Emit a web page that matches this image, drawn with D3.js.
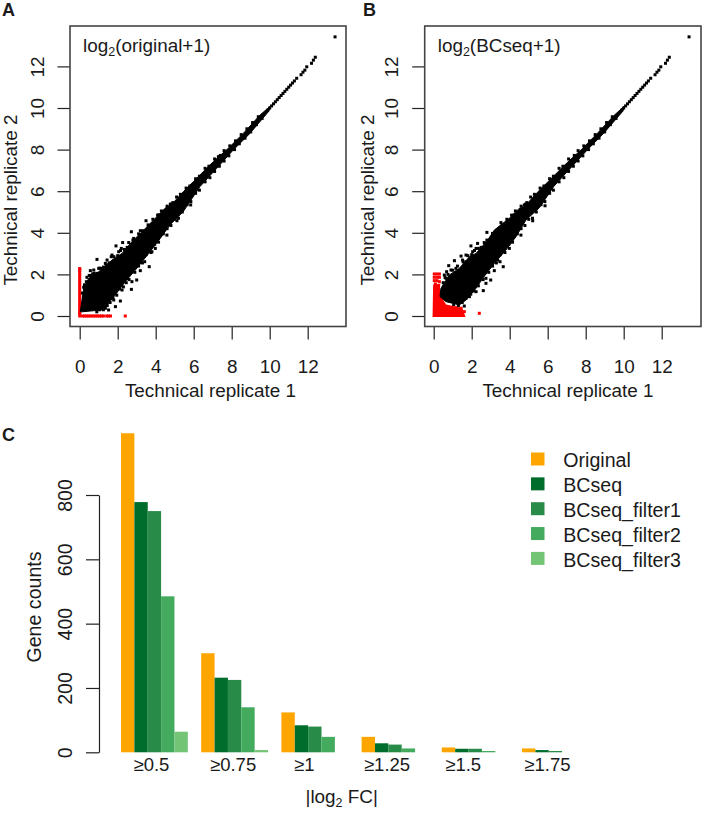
<!DOCTYPE html>
<html><head><meta charset="utf-8">
<script src="https://cdn.jsdelivr.net/npm/d3@7"></script>
<style>
html,body{margin:0;padding:0;background:#fff}
svg{display:block}
text{font-family:"Liberation Sans",Arial,sans-serif;fill:#1a1a1a}
</style></head><body>
<script>
// ---- Scatter data (log2 units) ----
const scatterTicks = [0,2,4,6,8,10,12];
const aUpperX = [0.03,0.21,0.47,1.0,1.7,2.23,2.75,3.37,3.98,4.49,4.86,5.46,5.98,7.03,7.82,8.61,9.49,10.02];
const aUpperY = [0.21,1.33,1.81,2.13,2.69,3.01,3.57,4.13,4.70,5.18,5.38,5.98,6.46,7.42,8.06,8.78,9.66,10.08];
const aLowerX = [0.1,1.17,1.52,1.87,2.40,2.93,3.63,4.24,4.75,5.45,6.33,7.21,8.08,8.96,9.93,10.02];
const aLowerY = [0.2,0.29,0.61,1.01,1.65,2.21,3.01,3.73,4.38,5.02,6.22,7.10,7.98,8.78,9.82,9.98];
const aOutX = [0.91,1.91,2.26,2.72,3.49,2.84,2.58,2.05,1.70,1.44,1.35,1.17,0.56,0.74,0.38,0.56,0.21,3.19,4.16,4.77,1.66,2.19,1.0,0.68,
  3.66,3.0,2.72,2.14,1.88,5.12,4.59,3.98,3.80,3.42,3.19,2.75,2.49,2.23,1.79,1.35,1.52,5.84,5.19,7.3,4.84,
  0.15,0.25,0.35,0.5,0.6,0.75,0.9,1.05,1.25,1.4,1.55,1.8,2.0,2.15,2.35,
  0.9,1.05,1.25,1.35,1.45,1.6,1.75,1.95,2.1,2.3,2.45];
const aOutY = [2.72,3.37,3.53,4.05,4.58,3.73,3.53,3.09,2.93,2.69,2.53,2.29,2.18,2.21,1.86,1.73,1.38,4.10,4.86,5.38,2.85,3.25,2.29,2.02,
  2.37,1.73,1.28,0.72,0.45,4.58,3.89,3.25,3.09,2.61,2.18,1.65,1.81,1.25,0.77,0.37,0.29,5.34,5.04,7.66,5.38,
  1.1,1.5,1.65,1.95,1.95,2.05,2.05,2.3,2.35,2.45,2.55,2.85,2.9,3.15,3.2,
  0.2,0.3,0.3,0.55,0.5,0.65,0.85,1.0,1.3,1.4,1.6];
// rough edge points along the middle of the cloud, both panels
const edgeX = [2.5,2.8,3.1,3.3,3.6,3.85,4.1,4.3,4.6,4.9,5.1,5.3,5.6,5.8,6.1,6.3,6.6,6.8,7.1,7.4,7.6,7.9,8.2,8.5,8.8,9.1,9.4,
  2.6,2.9,3.1,3.3,3.5,3.75,3.95,4.15,4.4,4.6,4.8,5.0,5.2,5.4,5.65,5.85,6.1,6.3,6.6,6.85,7.1,7.35,7.6,7.85,8.15,8.4,8.7,9.0,9.3,9.6];
const edgeY = [3.3,3.65,3.95,4.1,4.38,4.65,4.85,5.05,5.28,5.45,5.72,5.85,6.15,6.25,6.6,6.72,7.1,7.2,7.55,7.72,7.95,8.18,8.42,8.72,9.0,9.3,9.58,
  1.75,2.1,2.4,2.55,2.95,3.05,3.45,3.55,3.95,4.2,4.35,4.65,4.7,5.0,5.35,5.5,5.9,6.05,6.45,6.65,6.95,7.2,7.45,7.7,8.0,8.28,8.55,8.85,9.2,9.5];
const tailX = [9.9,10.0,10.1,10.2,10.3,10.4,10.5,10.6,10.7,10.8,10.9,11.0,11.1,11.2,11.3,11.42,11.65,11.75,11.85,11.95,12.2,12.3,12.4,13.44];
const tailY = [9.9,10.0,10.1,10.2,10.3,10.4,10.5,10.6,10.7,10.8,10.9,11.0,11.1,11.2,11.3,11.43,11.6,11.72,11.82,11.98,12.15,12.3,12.44,13.42];
const aRedX = [0,0,0,0,0,0,0,0,0,0,0,0,0,0,0,0,0,0,0,0,0,0,0,0,0,
  0,0.15,0.25,0.35,0.45,0.55,0.65,0.75,0.85,0.95,1.05,1.15,1.25,1.42,1.52,1.62,2.40];
const aRedY = [0.1,0.2,0.3,0.4,0.5,0.6,0.7,0.8,0.9,1.0,1.1,1.2,1.3,1.4,1.5,1.6,1.7,1.8,1.9,2.0,2.1,2.2,2.28,2.25,0.15,
  0,0,0,0,0,0,0,0,0,0,0,0,0,0,0,0,0];

const bUpperX = [0.38,0.82,1.35,1.88,2.23,2.84,3.19,3.98,4.49,4.86,5.46,5.98,7.03,7.82,8.61,9.49,10.02];
const bUpperY = [1.33,1.97,2.29,2.85,3.01,3.65,4.13,4.70,5.16,5.34,5.95,6.42,7.38,8.04,8.78,9.64,10.08];
const bLowerX = [0.33,0.65,1.35,1.70,2.23,2.58,3.19,3.80,4.33,4.86,5.56,6.33,7.21,8.08,8.96,9.93,10.02];
const bLowerY = [0.93,0.69,0.53,0.77,1.33,1.81,2.53,3.17,3.81,4.62,5.20,6.24,7.12,7.98,8.80,9.82,9.98];
const bOutX = [0.79,1.09,1.44,1.70,1.96,2.31,2.66,2.80,3.54,1.52,1.17,0.56,0.68,0.65,2.05,2.23,3.10,4.24,4.77,1.70,0.91,
  3.66,3.49,3.19,3.0,2.75,2.61,2.75,5.21,4.59,3.98,1.88,1.70,2.23,1.61,3.37,5.86,5.15,4.84,
  0.5,0.6,0.75,1.0,1.25,1.55,1.8,2.0,2.15,2.35,1.05,1.3,1.5,1.95,2.1,2.35];
const bOutY = [2.42,2.66,2.88,2.93,3.37,3.49,3.53,4.02,4.49,2.69,2.29,1.97,2.13,1.81,3.09,3.25,3.97,4.86,5.34,2.61,2.21,
  2.37,2.61,2.18,1.73,1.81,1.22,1.57,4.58,3.89,3.25,0.93,0.85,1.17,0.48,2.69,5.3,4.98,5.38,
  1.6,1.85,2.0,2.2,2.4,2.6,2.9,2.95,3.15,3.25,0.55,0.5,0.65,1.05,1.2,1.45];
const bRedPolyX = [-0.03,0.32,0.36,0.65,1.5,1.68,-0.06];
const bRedPolyY = [1.52,1.52,1.0,0.55,0.38,-0.05,-0.05];
const bRedX = [0.03,0.16,0.30,0.03,0.17,0.30,0.03,0.17,0.30,0.09,0.26,0.38,0.44,0.65,0.91,1.17,1.44,1.61,2.40];
const bRedY = [2.02,2.02,2.02,1.86,1.86,1.86,1.70,1.70,1.65,1.54,1.47,1.04,0.85,0.45,0.41,0.40,0.37,0.21,0.13];

// ---- Bar data ----
const groups = ["≥0.5","≥0.75","≥1","≥1.25","≥1.5","≥1.75"];
const seriesNames = ["Original","BCseq","BCseq_filter1","BCseq_filter2","BCseq_filter3"];
const seriesColors = ["#FFA500","#006D2C","#288C48","#44AB5E","#74C476"];
const original = [992,308,124,48,15,12];
const bcseq    = [778,232,84,28,11,7];
const filter1  = [750,225,80,24,11,4];
const filter2  = [485,140,48,12,4,0];
const filter3  = [64,7,0,0,0,0];
const seriesValues = [original,bcseq,filter1,filter2,filter3];
const barTicks = [0,200,400,600,800];
// hand-placed label offsets seen in the figure (px)
const groupLabelNudge = [-3,-1.5,-10.5,-8,-12,-8];

// ---- Layout ----
const W = 712, H = 813;
const svg = d3.select("body").append("svg").attr("width",W).attr("height",H);
const FS = 18.9, FSC = 19.6;
const defs = svg.append("defs");
defs.append("filter").attr("id","soft").append("feGaussianBlur").attr("stdDeviation",0.3);

function addLog2(g,x,y,pre,post,size){
  const t = g.append("text").attr("x",x).attr("y",y).attr("font-size",size);
  t.append("tspan").text(pre);
  t.append("tspan").attr("font-size",size*0.66).attr("dy",4).text("2");
  t.append("tspan").attr("dy",-4).text(post);
  return t;
}
function styleAxis(g,size){
  g.select(".domain").attr("stroke","#222").attr("stroke-width",1.2);
  g.selectAll(".tick line").attr("stroke","#222").attr("stroke-width",1.2);
  g.selectAll(".tick text").attr("font-size",size).attr("font-family",'"Liberation Sans",Arial,sans-serif').attr("fill","#1a1a1a");
}
function polygon(x,y,xs,ys){
  return d3.line().x(d=>x(xs[d])).y(d=>y(ys[d]))(d3.range(xs.length))+"Z";
}

function panel(o){
  const x = d3.scaleLinear().domain([0,12]).range([o.x0,o.x0+228]);
  const y = d3.scaleLinear().domain([0,12]).range([316,66.4]);
  const g = svg.append("g");
  const ax = g.append("g").attr("transform","translate(0,326.5)")
    .call(d3.axisBottom(x).tickValues(scatterTicks).tickFormat(d3.format("d")).tickSize(13).tickSizeOuter(0).tickPadding(20));
  styleAxis(ax,FS); ax.select(".domain").remove();
  const ay = g.append("g").attr("transform",`translate(${o.left},0)`)
    .call(d3.axisLeft(y).tickValues(scatterTicks).tickFormat(d3.format("d")).tickSize(12.5).tickSizeOuter(0).tickPadding(0));
  styleAxis(ay,FS); ay.select(".domain").remove();
  ay.selectAll(".tick text").attr("x",null).attr("dy",null).attr("text-anchor","middle")
    .attr("transform","translate(-32.5,0) rotate(-90) translate(0,6)");

  const marks = g.append("g").attr("filter","url(#soft)");
  // red low-count points behind the black cloud
  if(o.redPolyX) marks.append("path").attr("d",polygon(x,y,o.redPolyX,o.redPolyY)).attr("fill","#ff0000");
  const sq = 3;
  marks.append("g").selectAll("rect").data(d3.range(o.redX.length)).join("rect")
    .attr("x",d=>x(o.redX[d])-sq/2).attr("y",d=>y(o.redY[d])-sq/2).attr("width",sq).attr("height",sq).attr("fill","#ff0000");

  // black dense core + individually readable points
  const px = o.upX.concat(o.loX.slice().reverse());
  const py = o.upY.concat(o.loY.slice().reverse());
  marks.append("path").attr("d",polygon(x,y,px,py)).attr("fill","#000").attr("stroke","#000").attr("stroke-width",1);
  const ox = o.outX.concat(edgeX,tailX), oy = o.outY.concat(edgeY,tailY);
  marks.append("g").selectAll("rect").data(d3.range(ox.length)).join("rect")
    .attr("x",d=>x(ox[d])-sq/2).attr("y",d=>y(oy[d])-sq/2).attr("width",sq).attr("height",sq).attr("fill","#000");

  g.append("rect").attr("x",o.left).attr("y",26).attr("width",o.right-o.left).attr("height",300.5)
    .attr("fill","none").attr("stroke","#444").attr("stroke-width",1.6);

  addLog2(g,o.left+13,52,"log","("+o.name+"+1)",FS);
  g.append("text").attr("x",o.titleX).attr("y",397).attr("text-anchor","middle").attr("font-size",FS).text("Technical replicate 1");
  g.append("text").attr("transform",`translate(${o.yTitleX},200) rotate(-90)`).attr("text-anchor","middle").attr("font-size",FS).text("Technical replicate 2");
}

panel({x0:79.7,left:70,right:346,name:"original",titleX:210.5,yTitleX:17,upX:aUpperX,upY:aUpperY,loX:aLowerX,loY:aLowerY,outX:aOutX,outY:aOutY,redX:aRedX,redY:aRedY});
panel({x0:433.7,left:424.7,right:701,name:"BCseq",titleX:568,yTitleX:374,upX:bUpperX,upY:bUpperY,loX:bLowerX,loY:bLowerY,outX:bOutX,outY:bOutY,redX:bRedX,redY:bRedY,redPolyX:bRedPolyX,redPolyY:bRedPolyY});

// panel letters
[["A",2,16],["B",363,16],["C",2,441]].forEach(([t,x,y])=>{
  svg.append("text").attr("x",x).attr("y",y).attr("font-size",18).attr("font-weight","bold").attr("fill","#000").text(t);
});

// ---- Panel C ----
const xBand = d3.scaleBand().domain(groups).range([121,121+5*80.2+66.83]).paddingInner(1/6).paddingOuter(0);
const xInner = d3.scaleBand().domain(seriesNames).range([0,xBand.bandwidth()]);
const yBar = d3.scaleLinear().domain([0,800]).range([752.3,495]);

const cg = svg.append("g");
seriesNames.forEach((name,i)=>{
  cg.append("g").selectAll("rect").data(groups).join("rect")
    .attr("x",g=>xBand(g)+xInner(name))
    .attr("y",(g,j)=>yBar(seriesValues[i][j]))
    .attr("width",xInner.bandwidth())
    .attr("height",(g,j)=>yBar(0)-yBar(seriesValues[i][j]))
    .attr("fill",seriesColors[i]);
});
const yAx = cg.append("g").attr("transform","translate(99,0)")
  .call(d3.axisLeft(yBar).tickValues(barTicks).tickSize(13).tickSizeOuter(0));
styleAxis(yAx,FSC);
yAx.selectAll(".tick text").attr("x",null).attr("dy",null).attr("text-anchor","middle")
  .attr("transform","translate(-33,0) rotate(-90) translate(0,6)");
cg.append("text").attr("transform","translate(41,607) rotate(-90)").attr("text-anchor","middle").attr("font-size",FSC).text("Gene counts");

const xAx = cg.append("g").attr("transform","translate(0,752.3)")
  .call(d3.axisBottom(xBand).tickSize(0).tickPadding(6));
xAx.select(".domain").remove();
xAx.selectAll(".tick line").remove();
xAx.selectAll(".tick text").attr("font-size",18.5).attr("font-family",'"Liberation Sans",Arial,sans-serif').attr("fill","#1a1a1a")
  .attr("dy",null).attr("y",19)
  .attr("dx",(d,i)=>groupLabelNudge[i]);

addLog2(cg,341.7,803,"|log"," FC|",FS).attr("text-anchor","middle");

// legend
const legendY = d3.scalePoint().domain(seriesNames).range([459,558.4]);
seriesNames.forEach((n,i)=>{
  svg.append("rect").attr("x",531).attr("y",legendY(n)-6.5).attr("width",13.5).attr("height",13).attr("fill",seriesColors[i]);
  svg.append("text").attr("x",563.3).attr("y",legendY(n)+8.4).attr("font-size",FSC).text(n);
});
</script>
</body></html>
